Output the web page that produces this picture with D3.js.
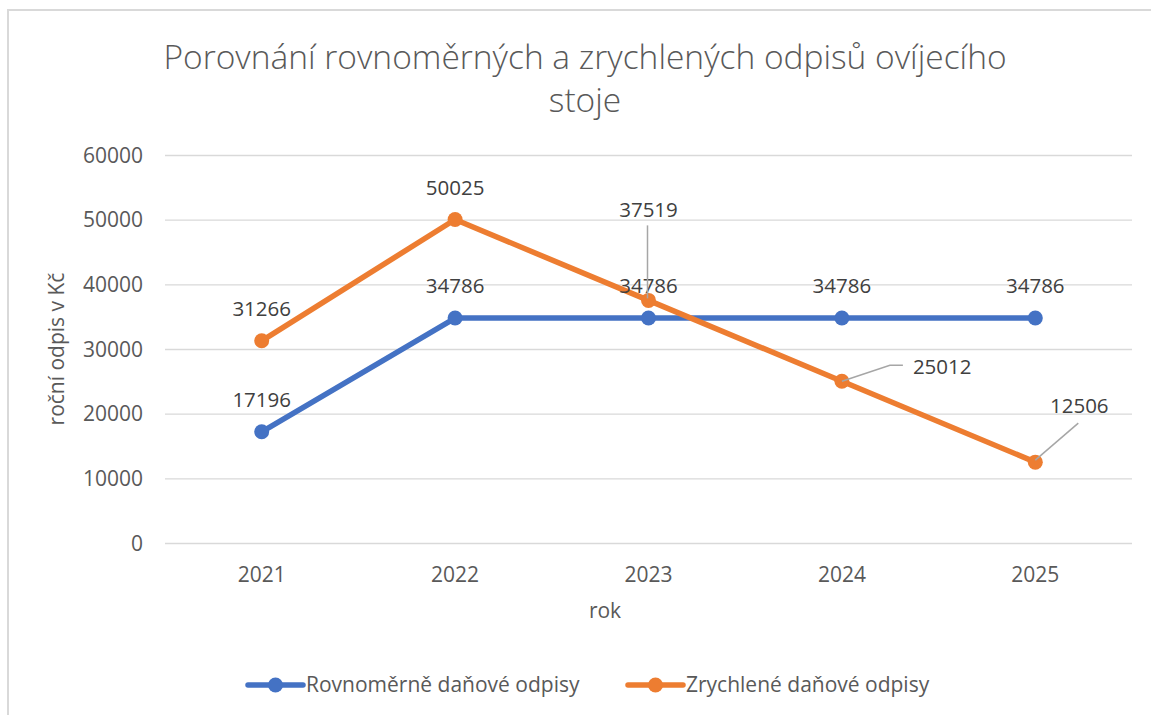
<!DOCTYPE html>
<html>
<head>
<meta charset="utf-8">
<script src="https://cdn.jsdelivr.net/npm/d3@7"></script>
<style>
  html, body { margin: 0; padding: 0; background: #fff; }
  svg { display: block; }
  text { font-family: "Open Sans", "Noto Sans", sans-serif; }
</style>
</head>
<body>
<svg id="chart" width="1151" height="715"></svg>
<script>
const years = ["2021", "2022", "2023", "2024", "2025"];
const rovnomerne = [17196, 34786, 34786, 34786, 34786];
const zrychlene = [31266, 50025, 37519, 25012, 12506];
const yTicks = [0, 10000, 20000, 30000, 40000, 50000, 60000];
const seriesNames = ["Rovnoměrně daňové odpisy", "Zrychlené daňové odpisy"];
const titleLines = ["Porovnání rovnoměrných a zrychlených odpisů ovíjecího", "stoje"];
const xTitle = "rok";
const yTitle = "roční odpis v Kč";

const colors = ["#4472C4", "#ED7D31"];
const svg = d3.select("#chart");
const W = 1151, H = 715;
const plot = { left: 165, right: 1132, top: 155, bottom: 543 };

// chart border
svg.append("rect").attr("x", 8).attr("y", 10).attr("width", W + 20).attr("height", H + 20)
  .attr("fill", "#fff").attr("stroke", "#d9d9d9").attr("stroke-width", 2);

const x = d3.scaleBand().domain(years).range([plot.left, plot.right]);
const y = d3.scaleLinear().domain([0, 60000]).range([plot.bottom, plot.top]);
const cx = d => x(d) + x.bandwidth() / 2;

// title
svg.append("text").attr("x", 585).attr("text-anchor", "middle")
  .attr("fill", "#595959").attr("font-size", 33.5).attr("font-weight", 300)
  .selectAll("tspan").data(titleLines).join("tspan")
  .attr("x", 585).attr("y", (d, i) => 69 + i * 43).text(d => d);

// gridlines + y axis
const yAxis = d3.axisLeft(y).tickValues(yTicks).tickSize(-(plot.right - plot.left)).tickPadding(22)
  .tickFormat(d3.format("d"));
const gy = svg.append("g").attr("transform", `translate(${plot.left},0)`).call(yAxis);
gy.select(".domain").remove();
gy.selectAll(".tick line").attr("stroke", "#d9d9d9").attr("stroke-width", 1.3);
gy.selectAll(".tick text").attr("fill", "#595959").attr("font-size", 21)
  .attr("font-family", "Open Sans, sans-serif").attr("dy", "0.34em");

// x axis
const xAxis = d3.axisBottom(x).tickSize(0).tickPadding(24);
const gx = svg.append("g").attr("transform", `translate(0,${plot.bottom})`).call(xAxis);
gx.select(".domain").remove();
gx.selectAll(".tick text").attr("fill", "#595959").attr("font-size", 21)
  .attr("font-family", "Open Sans, sans-serif");

// axis titles
svg.append("text").attr("x", 605).attr("y", 618).attr("text-anchor", "middle")
  .attr("fill", "#595959").attr("font-size", 21).text(xTitle);
svg.append("text").attr("transform", "translate(64,349) rotate(-90)").attr("text-anchor", "middle")
  .attr("fill", "#595959").attr("font-size", 21).text(yTitle);

// lines
const line = d3.line().x((d, i) => cx(years[i])).y(d => y(d));
[rovnomerne, zrychlene].forEach((vals, s) => {
  svg.append("path").datum(vals).attr("d", line).attr("fill", "none")
    .attr("stroke", colors[s]).attr("stroke-width", 5.5).attr("stroke-linejoin", "round").attr("stroke-linecap", "round");
  svg.append("g").selectAll("circle").data(vals).join("circle")
    .attr("cx", (d, i) => cx(years[i])).attr("cy", d => y(d)).attr("r", 7.5).attr("fill", colors[s]);
});

// data labels
const labelColor = "#404040";
function label(xp, yp, txt, anchor) {
  svg.append("text").attr("x", xp).attr("y", yp).attr("text-anchor", anchor || "middle")
    .attr("dy", "0.35em").attr("fill", labelColor).attr("font-size", 20.5).text(txt);
}
// blue: above points
rovnomerne.forEach((v, i) => label(cx(years[i]), y(v) - 32, v));
// orange: first two above, others with leader lines
const leader = "#a6a6a6";
zrychlene.forEach((v, i) => {
  const px = cx(years[i]), py = y(v);
  if (i < 2) { label(px, py - 32, v); return; }
  if (i === 2) {
    svg.append("line").attr("x1", px - 1).attr("x2", px - 1).attr("y1", py - 2).attr("y2", py - 75)
      .attr("stroke", leader).attr("stroke-width", 1.5);
    label(px, py - 91, v);
  } else if (i === 3) {
    svg.append("polyline").attr("points", `${px},${py} ${px + 48},${py - 16} ${px + 61},${py - 16}`)
      .attr("fill", "none").attr("stroke", leader).attr("stroke-width", 1.5);
    label(px + 71, py - 14, v, "start");
  } else {
    svg.append("line").attr("x1", px).attr("y1", py - 2).attr("x2", px + 43).attr("y2", py - 39)
      .attr("stroke", leader).attr("stroke-width", 1.5);
    label(px + 44, py - 56, v);
  }
});

// legend
const legendItems = [{ x: 248, tx: 306 }, { x: 628, tx: 686 }];
legendItems.forEach((it, s) => {
  const g = svg.append("g");
  g.append("line").attr("x1", it.x).attr("x2", it.x + 55).attr("y1", 685).attr("y2", 685)
    .attr("stroke", colors[s]).attr("stroke-width", 5.5).attr("stroke-linecap", "round");
  g.append("circle").attr("cx", it.x + 27.5).attr("cy", 685).attr("r", 7.5).attr("fill", colors[s]);
  g.append("text").attr("x", it.tx).attr("y", 685).attr("dy", "0.35em").attr("fill", "#595959")
    .attr("font-size", 21).text(seriesNames[s]);
});
</script>
</body>
</html>
